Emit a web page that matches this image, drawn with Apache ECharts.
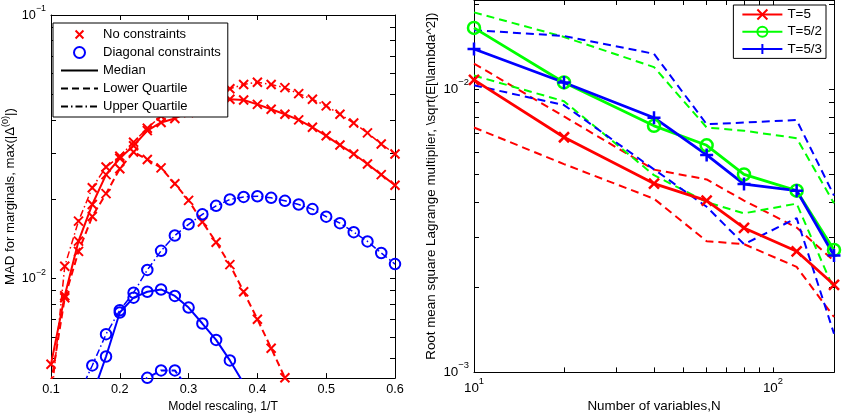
<!DOCTYPE html>
<html>
<head>
<meta charset="utf-8">
<script src="https://cdn.jsdelivr.net/npm/echarts@6/dist/echarts.min.js"></script>
<style>
html,body{margin:0;padding:0;background:#fff;}
#chart{width:842px;height:418px;}
</style>
</head>
<body>
<div id="chart"></div>
<script>
// left panel: MAD for marginals vs model rescaling 1/T
var rescale = [0.10,0.12,0.14,0.16,0.18,0.20,0.22,0.24,0.26,0.28,0.30,0.32,0.34,0.36,0.38,0.40,0.42,0.44,0.46,0.48,0.50,0.52,0.54,0.56,0.58,0.60];
var noConMedian = [0.00473,0.00861,0.01387,0.0191,0.0248,0.0286,0.0319,0.0364,0.0391,0.0405,0.0426,0.0449,0.0468,0.0479,0.0476,0.0458,0.0439,0.0420,0.0400,0.0375,0.0348,0.0321,0.0297,0.0272,0.0248,0.0226];
var noConLower = [0.0040,0.00845,0.01268,0.0172,0.0210,0.0261,0.0302,0.0283,0.0263,0.0229,0.0198,0.0164,0.01374,0.01129,0.00891,0.00701,0.00544,0.0042,null,null,null,null,null,null,null,null];
var noConUpper = [0.0034,0.01114,0.01652,0.0221,0.0265,0.0291,0.0329,0.0372,0.0414,0.0446,0.0475,0.0496,0.0513,0.0525,0.0545,0.0556,0.0545,0.0530,0.0503,0.0479,0.0452,0.0420,0.0389,0.0357,0.0324,0.0297];
var diagMedian = [null,null,null,0.0036,0.00506,0.00743,0.00846,0.00891,0.00909,0.00859,0.00776,0.00675,0.00585,0.00489,0.0040,null,null,null,null,null,null,null,null,null,null,null];
var diagLower = [null,null,null,null,null,null,0.0038,0.0042,0.00448,0.00448,0.0038,null,null,null,null,null,null,null,null,null,null,null,null,null,null,null];
var diagUpper = [null,null,0.0036,0.00468,0.00615,0.00758,0.00884,0.01078,0.01274,0.01456,0.01606,0.01752,0.01888,0.01995,0.0204,0.02053,0.02024,0.01972,0.0191,0.01834,0.01717,0.01622,0.0150,0.01383,0.0125,0.01135];
var leftXTicks = [0.1,0.2,0.3,0.4,0.5,0.6];
var leftYTicks = [0.005,0.006,0.007,0.008,0.009,0.01,0.02,0.03,0.04,0.05,0.06,0.07,0.08,0.09,0.1];
var leftYLabels = [0.01,0.1];

// right panel: RMS Lagrange multiplier vs N
var nVars = [10,20,40,60,80,120,160];
var t5Median = [0.01082,0.00678,0.00465,0.00405,0.00324,0.00268,0.00204];
var t5Lower = [0.00734,0.00545,0.00411,0.00291,0.00284,0.00236,0.00157];
var t5Upper = [0.01235,0.00803,0.00521,0.00481,0.00405,0.00325,0.00248];
var t52Median = [0.01651,0.01059,0.00744,0.00635,0.00501,0.00439,0.00271];
var t52Lower = [0.0112,0.00909,0.00498,0.0040,0.00365,0.00395,0.00196];
var t52Upper = [0.01874,0.01534,0.0120,0.00734,0.00715,0.00673,0.00396];
var t53Median = [0.01391,0.01059,0.00795,0.00587,0.00463,0.00439,0.00259];
var t53Lower = [0.01035,0.00881,0.00522,0.00385,0.00284,0.00351,0.00137];
var t53Upper = [0.01621,0.01546,0.01337,0.00754,0.00764,0.0078,0.00422];
var rightXTicks = [10,20,30,40,50,60,70,80,90,100];
var rightXLabels = [10,100];
var rightYTicks = [0.001,0.002,0.003,0.004,0.005,0.006,0.007,0.008,0.009,0.01,0.02];
var rightYLabels = [0.001,0.01];

var FONT = 'Liberation Sans, Arial, Helvetica, sans-serif';
var CROSS = 'path://M0,0L10,10M10,0L0,10';
var CROSS_PAD = 'path://M-2,-2M12,12M0,0L10,10M10,0L0,10';
var PLUS = 'path://M5,0L5,10M0,5L10,5';

function lg(v){ return Math.round(Math.log10(v) * 1e9) / 1e9; }
function pow10(v){
	var e = Math.round(v);
	return '10{s|' + (e < 0 ? '\u2212' : '') + Math.abs(e) + '}';
}

//one side of the axes box
function frame(grid, pos, min, max, ticks, labels, fmt, fs){
	return {
		type : 'value',
		gridIndex : grid,
		position : pos,
		min : min,
		max : max,
		axisLine : {show:true, onZero:false, lineStyle:{color:'#000', width:1}},
		axisTick : {show:true, inside:true, length:5, customValues:ticks, lineStyle:{color:'#000', width:1}},
		splitLine : {show:false},
		axisLabel : labels ? {
			show : true,
			customValues : labels,
			formatter : fmt,
			color : '#000',
			fontFamily : FONT,
			fontSize : fs,
			margin : 5,
			rich : {s : {fontSize : fs * 0.7, fontFamily : FONT, color : '#000', padding : [0,0,fs,0]}}
		} : {show:false}
	};
}

function series(name, xi, yi, xs, ys, color, width, dash, symbol, size, bw){
	var data = [];
	for(var i = 0; i < xs.length; i++){
		if(ys[i] != null) data.push([xs[i], lg(ys[i])]);
	}
	return {
		type : 'line',
		name : name,
		xAxisIndex : xi,
		yAxisIndex : yi,
		data : data,
		symbol : symbol,
		symbolSize : size,
		showSymbol : symbol != 'none',
		itemStyle : {color:'transparent', borderColor:color, borderWidth:bw},
		lineStyle : {color:color, width:width, type:dash},
		emphasis : {disabled:true},
		silent : true,
		clip : true
	};
}

var chart = echarts.init(document.getElementById('chart'));

var fmtDec = function(v){ return String(Math.round(v * 10) / 10); };
var xL = frame(0, 'bottom', 0.1, 0.6, leftXTicks, leftXTicks, fmtDec, 12.7);
xL.name = 'Model rescaling, 1/T';
xL.nameLocation = 'middle';
xL.nameGap = 21;
xL.nameTextStyle = {fontFamily:FONT, fontSize:12.2, color:'#000'};
var xLTop = frame(0, 'top', 0.1, 0.6, leftXTicks, null);
var yL = frame(0, 'left', lg(0.00419), lg(0.1), leftYTicks.map(lg), leftYLabels.map(lg), pow10, 12.7);
yL.name = 'MAD for marginals, max(|\u0394{s|(0)}|)';
yL.nameLocation = 'middle';
yL.nameGap = 31;
yL.nameTextStyle = {fontFamily:FONT, fontSize:13.2, color:'#000', rich:{s:{fontFamily:FONT, fontSize:9, color:'#000', padding:[0,0,10,0]}}};
var yLRight = frame(0, 'right', lg(0.00419), lg(0.1), leftYTicks.map(lg), null);

var xR = frame(1, 'bottom', lg(10), lg(160), rightXTicks.map(lg), rightXLabels.map(lg), pow10, 13.4);
xR.name = 'Number of variables,N';
xR.nameLocation = 'middle';
xR.nameGap = 25;
xR.nameTextStyle = {fontFamily:FONT, fontSize:13.4, color:'#000'};
var xRTop = frame(1, 'top', lg(10), lg(160), rightXTicks.map(lg), null);
var yR = frame(1, 'left', lg(0.001), lg(0.02072), rightYTicks.map(lg), rightYLabels.map(lg), pow10, 13.4);
yR.name = 'Root mean square Lagrange multiplier, \\sqrt(E[\\lambda^2])';
yR.nameLocation = 'middle';
yR.nameGap = 36;
yR.nameTextStyle = {fontFamily:FONT, fontSize:13.4, color:'#000'};
var yRRight = frame(1, 'right', lg(0.001), lg(0.02072), rightYTicks.map(lg), null);

var nLog = nVars.map(lg);
var RED = '#ff0000', GREEN = '#00ff00', BLUE = '#0000ff';
var DASH_L = [7,4], DOTDASH_L = [7,3,1.5,3], DASH_R = [8,5];

var seriesList = [
	series('No constraints', 0, 0, rescale, noConMedian, RED, 2, 'solid', CROSS, 9, 2),
	series('No constraints', 0, 0, rescale, noConLower, RED, 2, DASH_L, CROSS, 9, 2),
	series('No constraints', 0, 0, rescale, noConUpper, RED, 1.5, DOTDASH_L, CROSS, 9, 2),
	series('Diagonal constraints', 0, 0, rescale, diagMedian, BLUE, 2, 'solid', 'circle', 10.5, 2),
	series('Diagonal constraints', 0, 0, rescale, diagLower, BLUE, 2, DASH_L, 'circle', 10.5, 2),
	series('Diagonal constraints', 0, 0, rescale, diagUpper, BLUE, 1.5, DOTDASH_L, 'circle', 10.5, 2),
	series('Median', 0, 0, [], [], '#000', 2, 'solid', 'none', 0, 0),
	series('Lower Quartile', 0, 0, [], [], '#000', 2, DASH_L, 'none', 0, 0),
	series('Upper Quartile', 0, 0, [], [], '#000', 2, DOTDASH_L, 'none', 0, 0),

	series('T=5 lower', 2, 2, nLog, t5Lower, RED, 2, DASH_R, 'none', 0, 0),
	series('T=5 upper', 2, 2, nLog, t5Upper, RED, 2, DASH_R, 'none', 0, 0),
	series('T=5/2 lower', 2, 2, nLog, t52Lower, GREEN, 2, DASH_R, 'none', 0, 0),
	series('T=5/2 upper', 2, 2, nLog, t52Upper, GREEN, 2, DASH_R, 'none', 0, 0),
	series('T=5/3 lower', 2, 2, nLog, t53Lower, BLUE, 2, DASH_R, 'none', 0, 0),
	series('T=5/3 upper', 2, 2, nLog, t53Upper, BLUE, 2, DASH_R, 'none', 0, 0),
	series('T=5', 2, 2, nLog, t5Median, RED, 2.8, 'solid', CROSS, 10, 2.5),
	series('T=5/2', 2, 2, nLog, t52Median, GREEN, 2.8, 'solid', 'circle', 12, 2.5),
	series('T=5/3', 2, 2, nLog, t53Median, BLUE, 2.8, 'solid', PLUS, 13, 2.5)
];

chart.setOption({
	animation : false,
	backgroundColor : '#fff',
	grid : [
		{left:47, top:15, width:348, height:366},
		{left:474, top:-6, width:360, height:382.7}
	],
	xAxis : [xL, xLTop, xR, xRTop],
	yAxis : [yL, yLRight, yR, yRRight],
	legend : [
		{
			left : 53,
			top : 23,
			orient : 'vertical',
			selectedMode : false,
			itemWidth : 37,
			itemHeight : 11,
			itemGap : 5,
			padding : [5,7,4,7],
			borderColor : '#000',
			borderWidth : 1,
			backgroundColor : '#fff',
			textStyle : {fontFamily:FONT, fontSize:13, color:'#000'},
			data : [
				{name:'No constraints', icon:CROSS_PAD, itemStyle:{color:'transparent', borderColor:RED, borderWidth:2}},
				{name:'Diagonal constraints', icon:'circle', itemStyle:{color:'transparent', borderColor:BLUE, borderWidth:2}},
				'Median', 'Lower Quartile', 'Upper Quartile'
			]
		},
		{
			right : 16,
			top : 5,
			orient : 'vertical',
			selectedMode : false,
			itemWidth : 40,
			itemHeight : 12.5,
			itemGap : 4.2,
			padding : [3,4,3,8],
			borderColor : '#000',
			borderWidth : 1,
			backgroundColor : '#fff',
			textStyle : {fontFamily:FONT, fontSize:13.4, color:'#000'},
			data : ['T=5', 'T=5/2', 'T=5/3']
		}
	],
	series : seriesList
});
</script>
</body>
</html>
